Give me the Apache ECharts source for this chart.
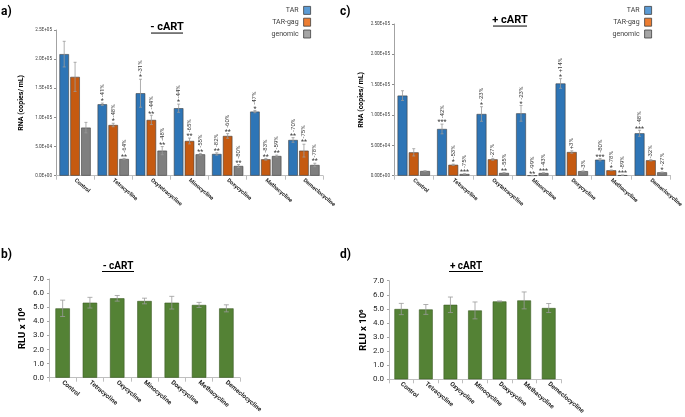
<!DOCTYPE html>
<html><head><meta charset="utf-8">
<script src="https://cdn.jsdelivr.net/npm/echarts@6/dist/echarts.min.js"></script>
<style>html,body{margin:0;padding:0;background:#fff}#c{width:685px;height:417px}</style>
</head><body><div id="c"></div>
<script>
// ---------- DATA ----------
const rnaCategories = ['Control','Tetracycline','Oxytetracycline','Minocycline','Doxycycline','Methacycline','Demeclocycline'];
const rluCategories = ['Control','Tetracycline','Oxycycline','Minocycline','Doxycycline','Methacycline','Demeclocycline'];
const seriesNames = ['TAR','TAR-gag','genomic'];
const aTickLabels = ['0.0E+00','5.0E+04','1.0E+05','1.5E+05','2.0E+05','2.5E+05'];
const cTickLabels = ['0.00E+00','5.00E+04','1.00E+05','1.50E+05','2.00E+05','2.50E+05'];

// panel a (- cART)
const aTAR      = [208600,122600,141500,115800, 37300,110000, 61300];
const aTARerr   = [ 22000,  2000, 24000,  7000,  2000,  2000,  4000];
const aGag      = [169600, 87000, 95700, 59600, 68200, 28200, 43000];
const aGagErr   = [ 25000,  3000,  8000,  5000,  4000,  1500, 11000];
const aGen      = [ 82500, 28700, 43000, 36700, 16700, 33800, 18400];
const aGenErr   = [  9000,  1000,  7000,  1500,  2500,  1500,  3000];
const aTARstars = ['', '*', '*', '*', '**', '*', '**'];
const aTARpct   = ['', '-41%', '-31%', '-44%', '-82%', '-47%', '-70%'];
const aGagStars = ['', '*', '**', '**', '**', '**', '**'];
const aGagPct   = ['', '-48%', '-44%', '-65%', '-60%', '-83%', '-75%'];
const aGenStars = ['', '**', '**', '**', '**', '**', '**'];
const aGenPct   = ['', '-64%', '-48%', '-55%', '-80%', '-59%', '-78%'];

// panel c (+ cART)
const cTAR      = [132000, 77000,101700,102800,152000, 26400, 69900];
const cTARerr   = [  8000,  8000, 12000, 13000,  8000,  2000,  5000];
const cGag      = [ 38500, 18000, 27000,   400, 39000,  8900, 25400];
const cGagErr   = [  6000,  1000,  1500,   200,  2000,   500,  1000];
const cGen      = [  7700,  2800,  4500,  4400,  7500,   800,  5600];
const cGenErr   = [   500,   300,   500,   400,   300,   200,   500];
const cTARstars = ['', '***', '*', '*', '*', '***', '***'];
const cTARpct   = ['', '-42%', '-23%', '-23%', '+14%', '-80%', '-48%'];
const cGagStars = ['', '*', '', '**', '', '*', ''];
const cGagPct   = ['', '-53%', '-27%', '-99%', '+3%', '-78%', '-32%'];
const cGenStars = ['', '***', '**', '***', '', '***', '*'];
const cGenPct   = ['', '-75%', '-55%', '-43%', '-3%', '-89%', '-27%'];

// panel b (- cART) and d (+ cART), RLU x 10^6
const bRLU    = [4.92, 5.32, 5.63, 5.44, 5.32, 5.16, 4.92];
const bRLUerr = [0.58, 0.38, 0.20, 0.20, 0.45, 0.18, 0.25];
const dRLU    = [4.99, 4.96, 5.29, 4.89, 5.53, 5.60, 5.06];
const dRLUerr = [0.40, 0.35, 0.55, 0.60, 0.03, 0.60, 0.32];

// ---------- STYLE ----------
const FONT = 'Roboto, "Liberation Sans", sans-serif';
const barFill = ['#2E75B6', '#C55A11', '#7F7F7F'];
const legendFill = ['#5B9BD5', '#ED7D31', '#A5A5A5'];
const green = '#548235';
const CAT_GAP_RNA = 0.18, BAR_GAP_RNA = 0.14;
const CAT_GAP_B = 0.47, CAT_GAP_D = 0.44;

function makeErr(slot, nBars, catGap, barGap, stars, pcts, capHalf) {
  return function (params, api) {
    const i = api.value(0), v = api.value(1), e = api.value(2);
    const band = api.size([1, 0])[0];
    const usable = band * (1 - catGap);
    const bw = usable / (nBars + (nBars - 1) * barGap);
    const x = api.coord([i, 0])[0] - usable / 2 + bw / 2 + slot * bw * (1 + barGap);
    const yT = api.coord([i, v + e])[1];
    const yB = api.coord([i, Math.max(v - e, 0)])[1];
    const ls = { stroke: '#9A9A9A', lineWidth: 0.8 };
    const ch = [
      { type: 'line', shape: { x1: x, y1: yT, x2: x, y2: yB }, style: ls },
      { type: 'line', shape: { x1: x - capHalf, y1: yT, x2: x + capHalf, y2: yT }, style: ls },
      { type: 'line', shape: { x1: x - capHalf, y1: yB, x2: x + capHalf, y2: yB }, style: ls }
    ];
    if (pcts) {
      const s = stars[params.dataIndex], p = pcts[params.dataIndex];
      let y = yT - 1.5;
      if (s) {
        ch.push({ type: 'text', x: x, y: yT + 2, style: { text: s, fontSize: 7, fontFamily: FONT, fill: '#404040', align: 'center', verticalAlign: 'bottom' } });
        y -= 4.5;
      }
      if (p) {
        ch.push({ type: 'text', x: x, y: y, rotation: Math.PI / 2, style: { text: p, fontSize: 6, fontFamily: FONT, fill: '#404040', align: 'left', verticalAlign: 'middle' } });
      }
    }
    return { type: 'group', children: ch };
  };
}

const grids = [
  { left: 56, top: 30, right: 362, bottom: 241.3 },   // a
  { left: 394, top: 24, right: 7, bottom: 241.3 },    // c
  { left: 49, top: 279, right: 445, bottom: 39.3 },   // b
  { left: 389, top: 280.7, right: 124, bottom: 37.7 } // d
];

function xAx(gi, cats, fs) {
  return {
    type: 'category', gridIndex: gi, data: cats,
    axisLine: { lineStyle: { color: '#BFBFBF', width: 1 } },
    axisTick: { show: true, length: 4, lineStyle: { color: '#BFBFBF' } },
    axisLabel: { interval: 0, rotate: -40, fontSize: fs, color: '#262626', fontFamily: FONT, margin: 4, fontWeight: 'bold' }
  };
}
function yRNA(gi, labels, nameGap) {
  return {
    type: 'value', gridIndex: gi, min: 0, max: 250000, interval: 50000,
    name: 'RNA (copies/ mL)', nameLocation: 'middle', nameGap: nameGap,
    nameTextStyle: { fontSize: 7, fontWeight: 'bold', color: '#000', fontFamily: FONT },
    axisLine: { show: true, lineStyle: { color: '#8C8C8C', width: 0.8 } },
    axisTick: { show: true, length: 2, lineStyle: { color: '#8C8C8C' } },
    splitLine: { show: false },
    axisLabel: { fontSize: 4.6, color: '#404040', fontFamily: FONT, margin: 4, formatter: v => labels[Math.round(v / 50000)] }
  };
}
function yRLU(gi, nameGap) {
  return {
    type: 'value', gridIndex: gi, min: 0, max: 7, interval: 1,
    name: 'RLU x 10\u2076', nameLocation: 'middle', nameGap: nameGap,
    nameTextStyle: { fontSize: 9.5, fontWeight: 'bold', color: '#000', fontFamily: FONT },
    axisLine: { show: true, lineStyle: { color: '#A6A6A6', width: 0.8 } },
    axisTick: { show: true, length: 2, lineStyle: { color: '#A6A6A6' } },
    splitLine: { show: false },
    axisLabel: { fontSize: 8, color: '#262626', fontFamily: FONT, margin: 5, formatter: v => v.toFixed(1) }
  };
}

const series = [];
function addRNA(gi, vals, errs, stars, pcts) {
  vals.forEach((arr, k) => {
    series.push({
      name: seriesNames[k], type: 'bar', xAxisIndex: gi, yAxisIndex: gi,
      data: arr, barCategoryGap: (CAT_GAP_RNA * 100) + '%', barGap: (BAR_GAP_RNA * 100) + '%',
      itemStyle: { color: barFill[k], borderColor: '#404040', borderWidth: 0.6 }
    });
  });
  vals.forEach((arr, k) => {
    series.push({
      name: 'err' + gi + k, type: 'custom', xAxisIndex: gi, yAxisIndex: gi, z: 5,
      renderItem: makeErr(k, 3, CAT_GAP_RNA, BAR_GAP_RNA, stars[k], pcts[k], 1.5),
      encode: { x: 0, y: 1 },
      data: arr.map((v, i) => [i, v, errs[k][i]])
    });
  });
}
addRNA(0, [aTAR, aGag, aGen], [aTARerr, aGagErr, aGenErr], [aTARstars, aGagStars, aGenStars], [aTARpct, aGagPct, aGenPct]);
addRNA(1, [cTAR, cGag, cGen], [cTARerr, cGagErr, cGenErr], [cTARstars, cGagStars, cGenStars], [cTARpct, cGagPct, cGenPct]);

function addRLU(gi, vals, errs, gap) {
  series.push({
    name: 'RLU' + gi, type: 'bar', xAxisIndex: gi, yAxisIndex: gi, data: vals,
    barCategoryGap: (gap * 100) + '%',
    itemStyle: { color: green, borderColor: '#3A5A24', borderWidth: 0.6 }
  });
  series.push({
    name: 'errRLU' + gi, type: 'custom', xAxisIndex: gi, yAxisIndex: gi, z: 5,
    renderItem: makeErr(0, 1, gap, 0, null, null, 2.5),
    encode: { x: 0, y: 1 },
    data: vals.map((v, i) => [i, v, errs[i]])
  });
}
addRLU(2, bRLU, bRLUerr, CAT_GAP_B);
addRLU(3, dRLU, dRLUerr, CAT_GAP_D);

function legendCfg(right) {
  return {
    right: right, top: 1, orient: 'vertical', align: 'right',
    itemWidth: 7, itemHeight: 8, itemGap: 3, icon: 'rect',
    textStyle: { fontSize: 7, color: '#404040', fontFamily: FONT, padding: [0, 0, 0, 0] },
    data: seriesNames.map((n, k) => ({ name: n, itemStyle: { color: legendFill[k], borderColor: '#404040', borderWidth: 0.8 } }))
  };
}

function titleGraphic(text, cx, cy, w, fs) {
  return [
    { type: 'text', x: cx, y: cy, style: { text: text, fontSize: fs, fontWeight: 'bold', fill: '#000', fontFamily: FONT, align: 'center', verticalAlign: 'middle' } },
    { type: 'line', shape: { x1: cx - w / 2, y1: cy + fs * 0.55, x2: cx + w / 2, y2: cy + fs * 0.55 }, style: { stroke: '#000', lineWidth: 1 } }
  ];
}
function letter(t, x, y) {
  return { type: 'text', x: x, y: y, style: { text: t, fontSize: 12, fontWeight: 'bold', fill: '#000', fontFamily: FONT, align: 'left', verticalAlign: 'middle' } };
}

const option = {
  animation: false,
  textStyle: { fontFamily: FONT },
  grid: grids,
  xAxis: [xAx(0, rnaCategories, 5.6), xAx(1, rnaCategories, 5.6), xAx(2, rluCategories, 6.3), xAx(3, rluCategories, 6.3)],
  yAxis: [yRNA(0, aTickLabels, 31), yRNA(1, cTickLabels, 29), yRLU(2, 21), yRLU(3, 20)],
  legend: [legendCfg(369), legendCfg(28)],
  series: series,
  graphic: [].concat(
    titleGraphic('- cART', 167, 27, 32, 11),
    titleGraphic('+ cART', 510, 20, 34, 11),
    titleGraphic('- cART', 118, 266, 32, 10),
    titleGraphic('+ cART', 466, 266, 34, 10),
    [letter('a)', 1, 12), letter('c)', 340, 12), letter('b)', 1, 255), letter('d)', 340, 255)]
  )
};

const chart = echarts.init(document.getElementById('c'), null, { renderer: 'canvas' });
chart.setOption(option);
</script>
</body></html>
